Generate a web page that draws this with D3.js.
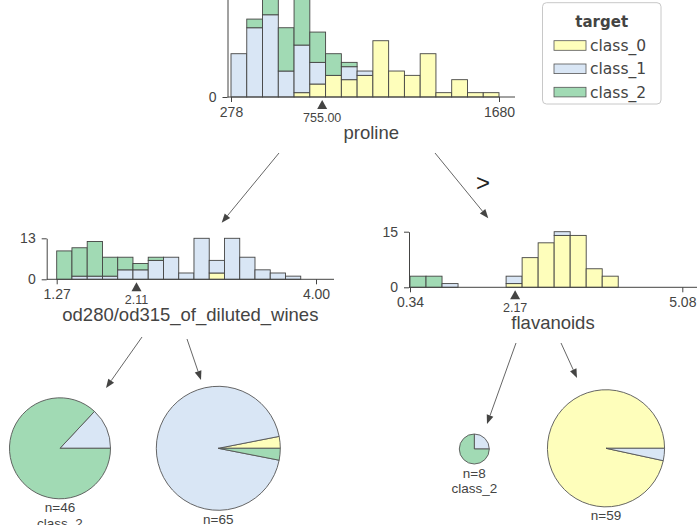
<!DOCTYPE html>
<html><head><meta charset="utf-8">
<script src="https://cdn.jsdelivr.net/npm/d3@7"></script>
<style>body{margin:0;background:#fff} svg{display:block}</style>
</head><body>
<svg id="chart" width="700" height="525"></svg>
<script>
// ---------- data ----------
const classNames = ["class_0", "class_1", "class_2"];
const classColors = ["#FEFEBB", "#D9E6F5", "#a1dab4"];

// root split: proline (17 bins)
const prolineDomain = [278, 1680];
const prolineTicks = ["278", "1680"];
const prolineSplit = 755.00;
const prolineClass0 = [0, 0, 0, 0, 1, 3, 5, 4, 5, 13, 6, 5, 10, 1, 4, 1, 1];
const prolineClass1 = [10, 16, 19, 6, 11, 5, 0, 3, 1, 0, 0, 0, 0, 0, 0, 0, 0];
const prolineClass2 = [0, 2, 9, 10, 14, 7, 5, 1, 0, 0, 0, 0, 0, 0, 0, 0, 0];

// left split: od280/od315_of_diluted_wines
const odDomain = [1.27, 4.00];
const odTicks = ["1.27", "4.00"];
const odSplit = 2.11;
const odClass0 = [0, 0, 0, 0, 0, 0, 0, 0, 0, 0, 2, 0, 0, 0, 0, 0, 0];
const odClass1 = [0, 1, 1, 1, 3, 3, 6, 7, 2, 13, 4, 13, 7, 3, 2, 1, 0];
const odClass2 = [9, 9, 11, 6, 4, 2, 1, 0, 0, 0, 0, 0, 0, 0, 0, 0, 0];

// right split: flavanoids
const flavDomain = [0.34, 5.08];
const flavTicks = ["0.34", "5.08"];
const flavSplit = 2.17;
const flavClass0 = [0, 0, 0, 0, 0, 0, 1, 8, 12, 14, 14, 5, 3, 0, 0, 0, 0];
const flavClass1 = [0, 0, 1, 0, 0, 0, 2, 0, 0, 1, 0, 0, 0, 0, 0, 0, 0];
const flavClass2 = [3, 3, 0, 0, 0, 0, 0, 0, 0, 0, 0, 0, 0, 0, 0, 0, 0];

// leaves: class counts [class_0, class_1, class_2]
const leafLL = [0, 6, 40];
const leafLR = [2, 61, 2];
const leafRL = [0, 2, 6];
const leafRR = [57, 2, 0];
const leafPred = ["class_2", "class_1", "class_2", "class_0"];

// ---------- drawing ----------
const svg = d3.select("#chart");
const INK = "#444443";
const LABEL_FONT = "'Liberation Sans', Arial, sans-serif";

function histNode(o) {
  const series = o.series;
  const nb = series[0].length;
  const totals = d3.range(nb).map(i => d3.sum(series, s => s[i]));
  const maxC = d3.max(totals);
  const x = d3.scaleLinear().domain(o.domain).range([o.x0, o.x1]);
  const y = d3.scaleLinear().domain([0, maxC]).range([o.base, o.top]);
  const binW = (o.domain[1] - o.domain[0]) / nb;
  const g = svg.append("g");

  const rects = [];
  for (let i = 0; i < nb; i++) {
    let acc = 0;
    series.forEach((s, c) => {
      if (s[i] > 0) rects.push({ i, c, y0: acc, y1: acc + s[i] });
      acc += s[i];
    });
  }
  g.selectAll("rect").data(rects).join("rect")
    .attr("x", d => x(o.domain[0] + d.i * binW))
    .attr("width", d => x(o.domain[0] + (d.i + 1) * binW) - x(o.domain[0] + d.i * binW))
    .attr("y", d => y(d.y1))
    .attr("height", d => y(d.y0) - y(d.y1))
    .attr("fill", d => classColors[d.c])
    .attr("stroke", INK).attr("stroke-width", 0.9);

  // y axis
  const ya = g.append("g").attr("transform", `translate(${o.axisX},0)`)
    .call(d3.axisLeft(y).tickValues([0, maxC]).tickSize(5).tickSizeOuter(0).tickPadding(6));
  ya.select(".domain").attr("stroke", INK);
  ya.selectAll(".tick line").attr("stroke", INK);
  ya.selectAll("text").attr("fill", INK).style("font-family", LABEL_FONT).style("font-size", "14px");

  // x spine
  g.append("line").attr("x1", o.axisX).attr("x2", o.spineEnd)
    .attr("y1", o.base).attr("y2", o.base).attr("stroke", INK);
  const xa = g.append("g").attr("transform", `translate(0,${o.base})`)
    .call(d3.axisBottom(x).tickValues(o.domain).tickSize(5).tickPadding(5)
      .tickFormat((d, i) => o.ticks[i]));
  xa.select(".domain").remove();
  xa.selectAll(".tick line").attr("stroke", INK);
  xa.selectAll("text").attr("fill", INK).style("font-family", LABEL_FONT).style("font-size", "14px");

  // split marker
  const sx = x(o.split);
  g.append("path")
    .attr("d", `M${sx},${o.base + 3}L${sx + 5},${o.base + 12}L${sx - 5},${o.base + 12}Z`)
    .attr("fill", INK);
  g.append("text").attr("x", sx).attr("y", o.base + 24.5).attr("text-anchor", "middle")
    .attr("fill", INK).style("font-family", LABEL_FONT).style("font-size", "12.5px")
    .text(o.split.toFixed(2));

  // feature name
  g.append("text").attr("x", (o.axisX + o.spineEnd) / 2).attr("y", o.base + 41.5)
    .attr("text-anchor", "middle").attr("fill", INK)
    .style("font-family", LABEL_FONT).style("font-size", "18.5px")
    .text(o.feature);
}

histNode({ series: [prolineClass0, prolineClass1, prolineClass2], domain: prolineDomain,
  ticks: prolineTicks, split: prolineSplit, feature: "proline",
  axisX: 227.5, x0: 231, x1: 499, spineEnd: 515, base: 97, top: -24.2 });
histNode({ series: [odClass0, odClass1, odClass2], domain: odDomain,
  ticks: odTicks, split: odSplit, feature: "od280/od315_of_diluted_wines",
  axisX: 46.7, x0: 56.7, x1: 316, spineEnd: 334, base: 279.3, top: 238.3 });
histNode({ series: [flavClass0, flavClass1, flavClass2], domain: flavDomain,
  ticks: flavTicks, split: flavSplit, feature: "flavanoids",
  axisX: 409, x0: 410, x1: 682.3, spineEnd: 697, base: 287.3, top: 231.7 });

// leaves
const leaves = [
  { counts: leafLL, cx: 60, cy: 448.3, pred: leafPred[0] },
  { counts: leafLR, cx: 218.3, cy: 448.3, pred: leafPred[1] },
  { counts: leafRL, cx: 474.3, cy: 449, pred: leafPred[2] },
  { counts: leafRR, cx: 606, cy: 448.3, pred: leafPred[3] }
];
const nVals = leaves.map(l => d3.sum(l.counts));
const rScale = d3.scaleSqrt().domain([d3.min(nVals), d3.max(nVals)]).range([15, 62]);
const pie = d3.pie().sort(null).value(d => d.v)
  .startAngle(Math.PI / 2).endAngle(Math.PI / 2 - 2 * Math.PI);
leaves.forEach((lf, k) => {
  const n = nVals[k];
  const r = rScale(n);
  const arc = d3.arc().innerRadius(0).outerRadius(r);
  const g = svg.append("g").attr("transform", `translate(${lf.cx},${lf.cy})`);
  const arcs = pie(lf.counts.map((v, c) => ({ v, c }))).filter(a => a.data.v > 0);
  g.selectAll("path").data(arcs).join("path")
    .attr("d", arc).attr("fill", a => classColors[a.data.c])
    .attr("stroke", "#555").attr("stroke-width", 0.9);
  g.append("text").attr("y", r + 13.5).attr("text-anchor", "middle").attr("fill", INK)
    .style("font-family", LABEL_FONT).style("font-size", "13.5px").text(`n=${n}`);
  g.append("text").attr("y", r + 29).attr("text-anchor", "middle").attr("fill", INK)
    .style("font-family", LABEL_FONT).style("font-size", "13.5px").text(lf.pred);
});

// arrows
const edges = [
  [279, 153, 221.7, 222.7], [435, 153, 488.3, 218.3],
  [142, 337, 106, 388], [187, 339, 201, 380],
  [516, 343, 487, 424], [561, 343, 577, 378]
];
edges.forEach(([x1, y1, x2, y2]) => {
  const ang = Math.atan2(y2 - y1, x2 - x1);
  const L = 9, W = 3.5;
  const bx = x2 - L * Math.cos(ang), by = y2 - L * Math.sin(ang);
  svg.append("line").attr("x1", x1).attr("y1", y1).attr("x2", bx).attr("y2", by)
    .attr("stroke", "#666").attr("stroke-width", 1);
  const px = -Math.sin(ang) * W, py = Math.cos(ang) * W;
  svg.append("path").attr("d", `M${x2},${y2}L${bx + px},${by + py}L${bx - px},${by - py}Z`)
    .attr("fill", INK);
});
svg.append("text").attr("x", 483).attr("y", 191).attr("text-anchor", "middle")
  .attr("fill", "#222").style("font-family", LABEL_FONT).style("font-size", "24px").text(">");

// legend
const lg = svg.append("g");
lg.append("rect").attr("x", 542.5).attr("y", 2.7).attr("width", 118.5).attr("height", 101.3)
  .attr("rx", 4).attr("fill", "#fff").attr("stroke", "#c8c8c8");
lg.append("text").attr("x", 601.7).attr("y", 27).attr("text-anchor", "middle")
  .attr("fill", INK).style("font-family", "'DejaVu Sans', sans-serif")
  .style("font-weight", "bold").style("font-size", "15px").text("target");
classNames.forEach((name, i) => {
  const cy = 45.5 + i * 23.3;
  lg.append("rect").attr("x", 554).attr("y", cy - 4.8).attr("width", 32).attr("height", 9.6)
    .attr("fill", classColors[i]).attr("stroke", "#555").attr("stroke-width", 0.8);
  lg.append("text").attr("x", 590).attr("y", cy + 5.5).attr("fill", INK)
    .style("font-family", "'DejaVu Sans', sans-serif").style("font-size", "15.5px").text(name);
});
</script>
</body></html>
